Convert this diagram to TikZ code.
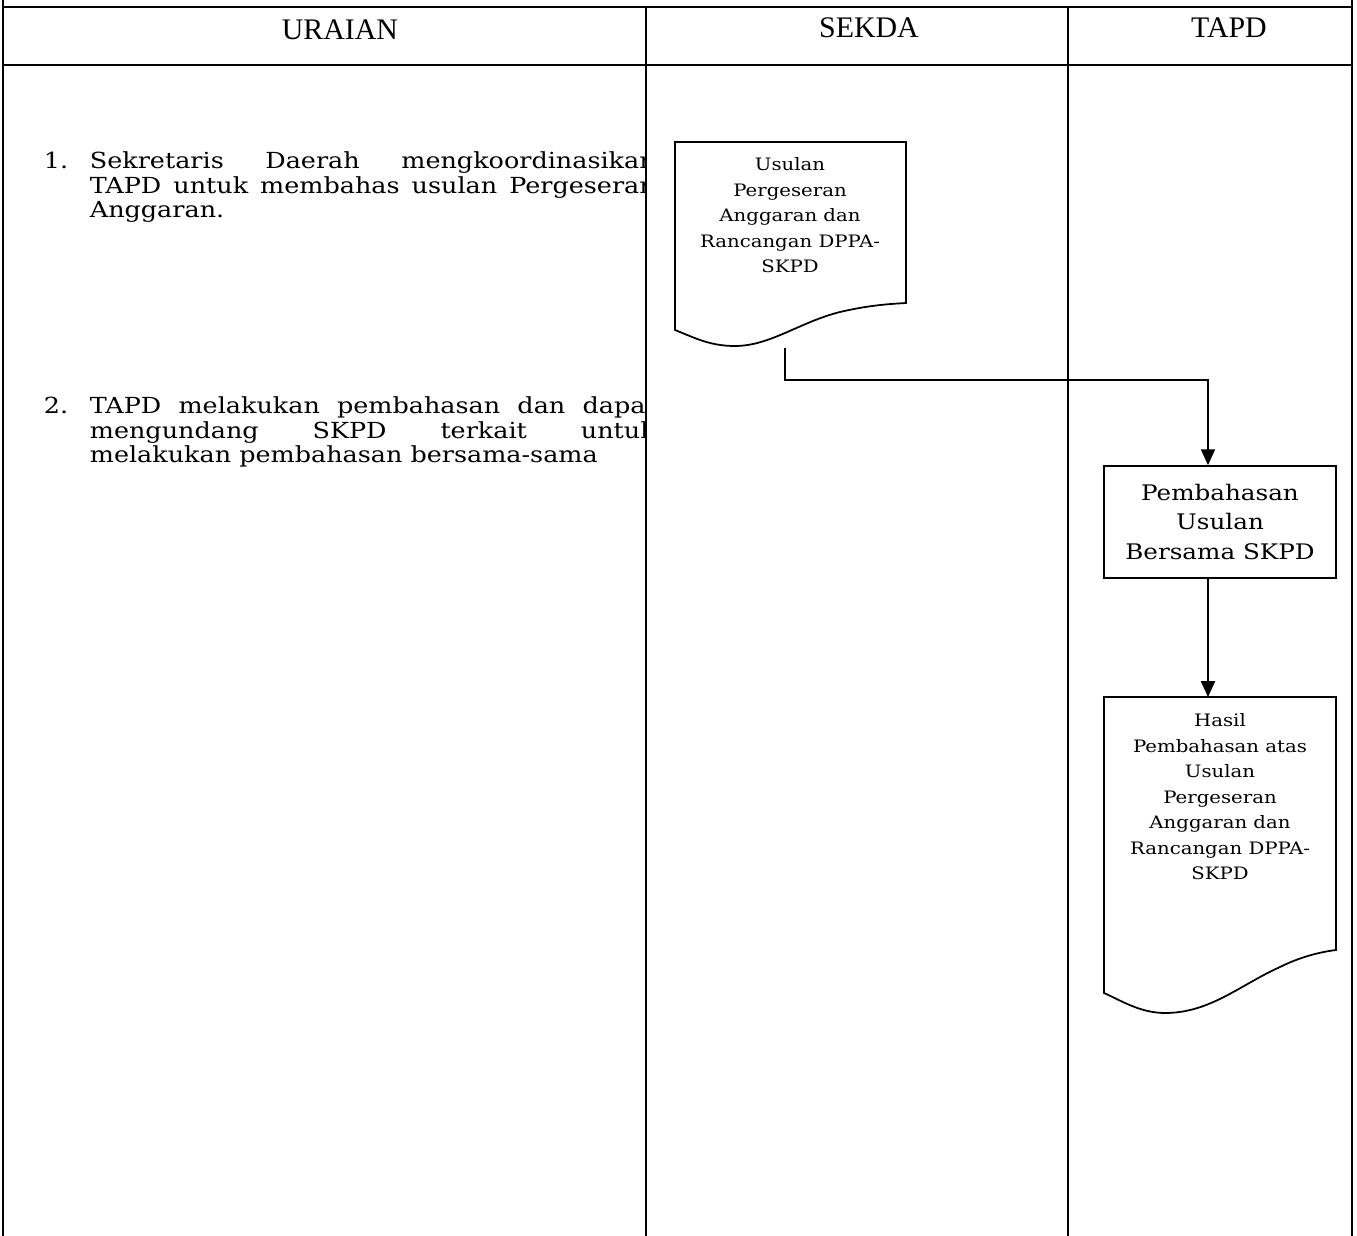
\documentclass[tikz,border=0pt]{standalone}
\usepackage{fontspec}
\setmainfont{DejaVu Serif}[FakeStretch=1.15]
\newfontfamily\hdrfont{Liberation Serif}
\usetikzlibrary{arrows.meta,positioning,calc}

\begin{document}
\begin{tikzpicture}[x=0.02cm, y=-0.02cm, line width=1pt,
  hdr/.style={anchor=base, inner sep=0pt, font=\hdrfont\fontsize{17}{20}\selectfont},
  stepnum/.style={anchor=north west, inner sep=0pt, font=\fontsize{12.6}{14}\selectfont},
  steptext/.style={anchor=north west, inner sep=0pt, text width=11.32cm, align=justify,
                   font=\fontsize{12.6}{14}\selectfont},
  doctext/.style={anchor=north, inner sep=0pt, align=center, font=\fontsize{9.75}{14.5}\selectfont},
  procbox/.style={draw, rectangle, minimum width=4.64cm, minimum height=2.24cm, align=center,
                  font=\fontsize{12.2}{17}\selectfont},
  flow/.style={-{Triangle[length=9pt,width=8pt]}}]
\useasboundingbox (0,0) rectangle (1357,1236);

% table frame
\draw (3,0) -- (3,1236);
\draw (1352,0) -- (1352,1236);
\draw (3,7) -- (1352,7);
\draw (3,65) -- (1352,65);
\foreach \xc in {646,1068}
  \draw (\xc,7) -- (\xc,1236);

\node[hdr] (hdrUraian) at (340,40) {URAIAN};
\node[hdr] (hdrSekda) at (869,38) {SEKDA};
\node[hdr] (hdrTapd) at (1229,38) {TAPD};

% uraian column, cut by the column line
\begin{scope}
  \clip (3,7) rectangle (646,1236);
  \node[stepnum] (numOne) at (43,151) {1.};
  \node[steptext] (stepOne) at (89,151)
    {Sekretaris Daerah mengkoordinasikan\linebreak
     TAPD untuk membahas usulan Pergeseran\linebreak Anggaran.};
  \node[stepnum] (numTwo) at (43,396) {2.};
  \node[steptext] (stepTwo) at (89,396)
    {TAPD melakukan pembahasan dan dapat\linebreak
     mengundang SKPD terkait untuk\linebreak melakukan pembahasan bersama-sama};
\end{scope}

% document: usulan
\draw (675,142) -- (906,142) -- (906,303)
  .. controls (890,304) and (870,305) .. (840,312)
  .. controls (800,322) and (770,346) .. (735,346)
  .. controls (710,346) and (695,338) .. (675,330) -- cycle;
\node[doctext] (docUsulan) at (790,157)
  {Usulan\\Pergeseran\\Anggaran dan\\Rancangan DPPA-\\SKPD};
\coordinate (usulanOut) at (785,348);

\node[procbox] (boxBahas) at (1220,522) {Pembahasan\\Usulan\\Bersama SKPD};

% document: hasil
\draw (1104,697) -- (1336,697) -- (1336,950)
  .. controls (1320,952) and (1300,957) .. (1280,967)
  .. controls (1240,985) and (1210,1013) .. (1165,1013)
  .. controls (1140,1013) and (1120,1000) .. (1104,993) -- cycle;
\node[doctext] (docHasil) at (1220,713)
  {Hasil\\Pembahasan atas\\Usulan\\Pergeseran\\Anggaran dan\\Rancangan DPPA-\\SKPD};
\coordinate (hasilTop) at (1208,697);

\coordinate (bend) at (1208,380);
\draw[flow] (usulanOut) |- (bend) -- (bend |- boxBahas.north);
\draw[flow] (bend |- boxBahas.south) -- (hasilTop);
\end{tikzpicture}
\end{document}
